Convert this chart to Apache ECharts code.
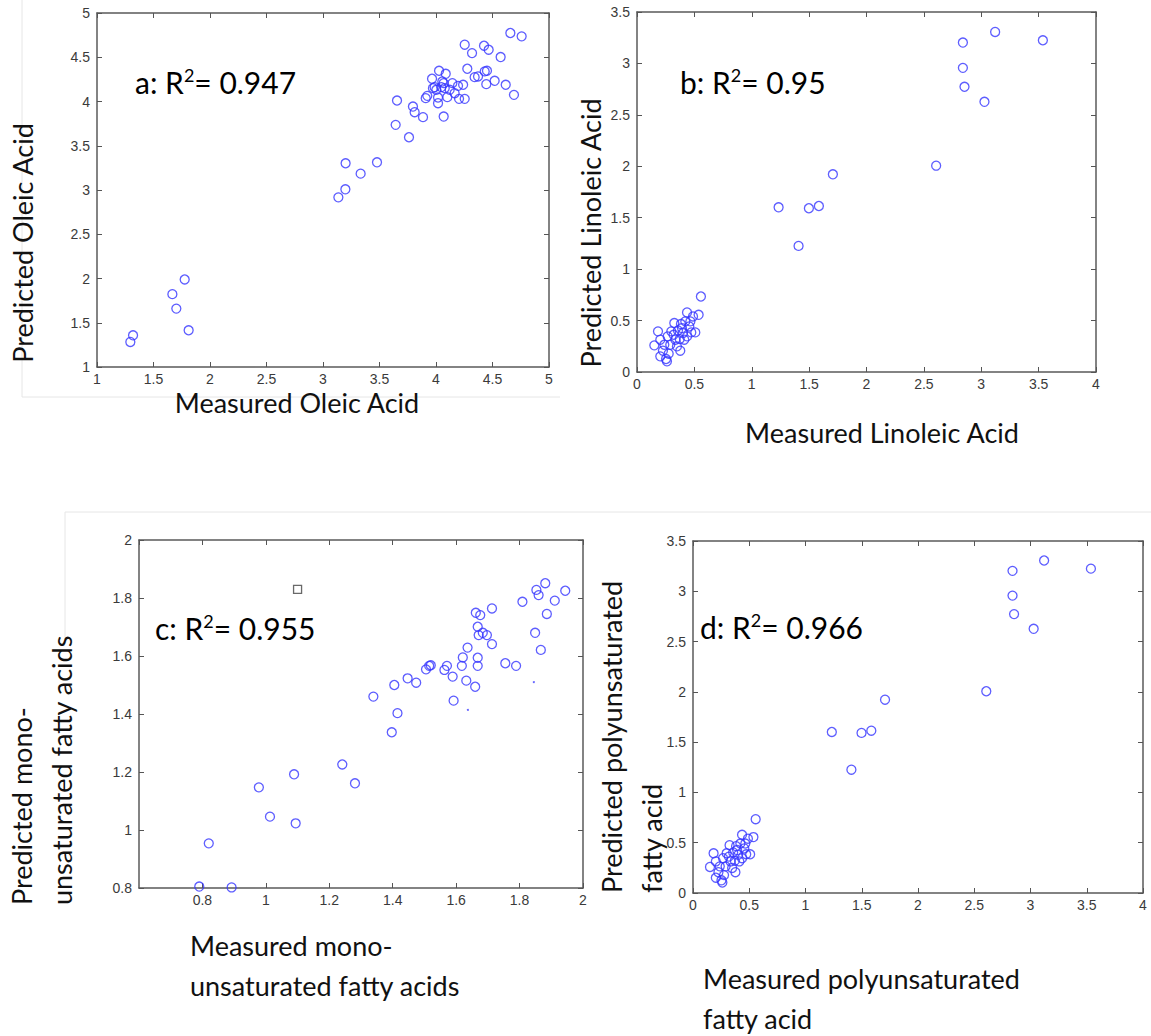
<!DOCTYPE html>
<html>
<head>
<meta charset="utf-8">
<script src="https://cdn.jsdelivr.net/npm/echarts@6/dist/echarts.min.js"></script>
<style>
html,body{margin:0;padding:0;background:#fff;}
#chart{width:1151px;height:1036px;}
</style>
</head>
<body>
<div id="chart"></div>
<script>
// a: oleic acid
var oleicMeasured = [1.295,1.319,1.811,1.667,1.702,1.776,3.136,3.198,3.2,3.333,3.478,3.643,3.655,3.761,3.796,3.811,3.885,3.909,3.923,3.965,3.988,4.027,4.018,4.018,4.047,4.068,4.086,4.068,4.1,4.121,4.145,4.195,4.204,4.24,4.254,4.254,4.277,4.319,4.342,4.372,4.425,4.431,4.451,4.445,4.466,4.519,4.572,4.617,4.658,4.69,4.758,4.165,3.973,4.003,4.056,4.077];
var oleicPredicted = [1.283,1.358,1.415,1.823,1.66,1.989,2.917,3.008,3.302,3.185,3.313,3.736,4.011,3.596,3.943,3.879,3.823,4.038,4.064,4.257,4.162,4.347,4.045,3.981,4.162,4.208,4.313,3.83,4.049,4.132,4.208,4.177,4.03,4.189,4.03,4.642,4.37,4.547,4.275,4.283,4.63,4.34,4.347,4.196,4.585,4.234,4.502,4.189,4.774,4.075,4.736,4.094,4.151,4.132,4.226,4.151];

// b: linoleic acid
var linoleicMeasured = [0.557,1.234,1.408,1.498,1.585,1.707,2.607,2.84,2.84,2.854,3.028,3.121,3.537,
  0.183,0.151,0.203,0.253,0.226,0.276,0.29,0.267,0.299,0.334,0.357,0.377,0.383,0.401,0.421,0.436,0.456,0.473,0.488,0.508,0.537,0.325,0.372,0.412,0.238,0.348,0.436,0.203,0.465,0.261,0.319,0.392];
var linoleicPredicted = [0.734,1.601,1.226,1.592,1.614,1.922,2.006,3.203,2.957,2.773,2.627,3.306,3.225,
  0.395,0.259,0.152,0.126,0.207,0.178,0.265,0.346,0.395,0.314,0.404,0.207,0.466,0.379,0.492,0.579,0.443,0.385,0.54,0.385,0.556,0.476,0.32,0.314,0.265,0.249,0.346,0.314,0.492,0.104,0.362,0.427];

// c: mono-unsaturated
var monoMeasured = [0.79,0.892,0.82,0.978,1.013,1.089,1.094,1.241,1.281,1.339,1.397,1.405,1.415,1.447,1.474,1.505,1.515,1.52,1.563,1.571,1.589,1.592,1.618,1.621,1.632,1.636,1.66,1.662,1.676,1.668,1.671,1.668,1.668,1.684,1.697,1.713,1.713,1.755,1.789,1.809,1.849,1.853,1.86,1.867,1.881,1.886,1.911,1.944];
var monoPredicted = [0.805,0.802,0.954,1.147,1.046,1.192,1.023,1.226,1.161,1.46,1.337,1.5,1.403,1.523,1.508,1.554,1.566,1.568,1.552,1.566,1.529,1.446,1.566,1.595,1.515,1.629,1.494,1.749,1.741,1.701,1.672,1.594,1.566,1.68,1.672,1.764,1.641,1.575,1.566,1.787,1.68,1.828,1.81,1.621,1.851,1.745,1.791,1.825];
var monoSquare = [1.1, 1.83];
var monoDotsX = [1.637, 1.845];
var monoDotsY = [1.414, 1.51];

// d: polyunsaturated (same points as b)
var pufaMeasured = linoleicMeasured;
var pufaPredicted = linoleicPredicted;

var panelNames = ['a: R', 'b: R', 'c: R', 'd: R'];
var r2Values = ['0.947', '0.95', '0.955', '0.966'];

var chart = echarts.init(document.getElementById('chart'), null, {renderer:'svg'});

function zip(xs, ys){
	var out = [];
	for(var i=0;i<xs.length;i++){
		out.push([xs[i], ys[i]]);
	}
	return out;
}

function boxAxes(gridIndex, min, max, interval, isX, showMin){
	var tick = {show:true, inside:true, length:5, lineStyle:{color:'#555', width:1}};
	var line = {show:true, onZero:false, lineStyle:{color:'#5a5a5a', width:1.5}};
	var main = {
		type:'value', gridIndex:gridIndex, min:min, max:max, interval:interval,
		position: isX ? 'bottom' : 'left',
		axisLine:line, axisTick:tick, splitLine:{show:false},
		axisLabel:{show:true, color:'#3a3a3a', fontFamily:'Liberation Sans', fontSize:14,
			margin: isX ? 5 : 7, showMinLabel:showMin, showMaxLabel:true}
	};
	var mirror = {
		type:'value', gridIndex:gridIndex, min:min, max:max, interval:interval,
		position: isX ? 'top' : 'right',
		axisLine:line, axisTick:tick, splitLine:{show:false}, axisLabel:{show:false}
	};
	return [main, mirror];
}

var grids = [
	{left:97, top:13, width:452, height:354},
	{left:637, top:12, width:459, height:360},
	{left:139, top:540, width:444, height:348},
	{left:693, top:541, width:450, height:352}
];

var xAxes = [].concat(
	boxAxes(0, 1, 5, 0.5, true, true),
	boxAxes(1, 0, 4, 0.5, true, true),
	boxAxes(2, 0.6, 2, 0.2, true, false),
	boxAxes(3, 0, 4, 0.5, true, true)
);
var yAxes = [].concat(
	boxAxes(0, 1, 5, 0.5, false, true),
	boxAxes(1, 0, 3.5, 0.5, false, true),
	boxAxes(2, 0.8, 2, 0.2, false, true),
	boxAxes(3, 0, 3.5, 0.5, false, true)
);

function circles(idx, data){
	return {
		type:'scatter', xAxisIndex:idx*2, yAxisIndex:idx*2, data:data,
		symbol:'circle', symbolSize:9, silent:true,
		itemStyle:{color:'rgba(0,0,0,0)', borderColor:'#3535ff', borderWidth:1.3}
	};
}

var series = [
	circles(0, zip(oleicMeasured, oleicPredicted)),
	circles(1, zip(linoleicMeasured, linoleicPredicted)),
	circles(2, zip(monoMeasured, monoPredicted)),
	circles(3, zip(pufaMeasured, pufaPredicted)),
	{
		type:'scatter', xAxisIndex:4, yAxisIndex:4, data:[monoSquare],
		symbol:'rect', symbolSize:8, silent:true,
		itemStyle:{color:'rgba(0,0,0,0)', borderColor:'#444', borderWidth:1.3}
	},
	{
		type:'scatter', xAxisIndex:4, yAxisIndex:4, data:zip(monoDotsX, monoDotsY),
		symbol:'circle', symbolSize:2, silent:true,
		itemStyle:{color:'#3535ff'}
	}
];

var FONT = 'Lato';

function title(x, y, text, rotate, align){
	return {
		type:'text', x:x, y:y, rotation: rotate ? Math.PI/2 : 0, silent:true,
		style:{text:text, fill:'#111', fontFamily:FONT, fontSize:27, lineHeight:40,
			textAlign:align || 'center', textVerticalAlign:'middle'}
	};
}

function r2(x, y, i){
	return {
		type:'text', x:x, y:y, silent:true,
		style:{
			text:'{m|' + panelNames[i] + '}{s|2}{m|= ' + r2Values[i] + '}',
			textAlign:'left', textVerticalAlign:'middle',
			rich:{
				m:{fontFamily:FONT, fontSize:30, lineHeight:32, textFill:'#111'},
				s:{fontFamily:FONT, fontSize:18, lineHeight:16, textFill:'#111', textVerticalAlign:'top'}
			}
		}
	};
}

// faint edges of the pasted picture frames
function edge(x1, y1, x2, y2){
	return {type:'line', silent:true, z:-1,
		shape:{x1:x1, y1:y1, x2:x2, y2:y2},
		style:{stroke:'#e6e6e6', lineWidth:1}};
}

var graphics = [
	edge(22, 0, 22, 397),
	edge(22, 397, 560, 397),
	edge(65, 512, 590, 512),
	edge(65, 512, 65, 640),
	edge(590, 512, 1151, 512),
	title(22, 243, 'Predicted Oleic Acid', true),
	title(297, 402, 'Measured Oleic Acid', false),
	title(590, 233, 'Predicted Linoleic Acid', true),
	title(882, 432, 'Measured Linoleic Acid', false),
	title(41, 905, 'Predicted mono-\nunsaturated fatty acids', true, 'left'),
	title(190, 965, 'Measured mono-\nunsaturated fatty acids', false, 'left'),
	title(631, 893, 'Predicted polyunsaturated\nfatty acid', true, 'left'),
	title(703, 998, 'Measured polyunsaturated\nfatty acid', false, 'left'),
	r2(135, 82, 0),
	r2(680, 82, 1),
	r2(155, 628, 2),
	r2(700, 627, 3)
];

chart.setOption({
	backgroundColor:'#fff',
	animation:false,
	grid:grids,
	xAxis:xAxes,
	yAxis:yAxes,
	series:series,
	graphic:graphics
});
</script>
</body>
</html>
